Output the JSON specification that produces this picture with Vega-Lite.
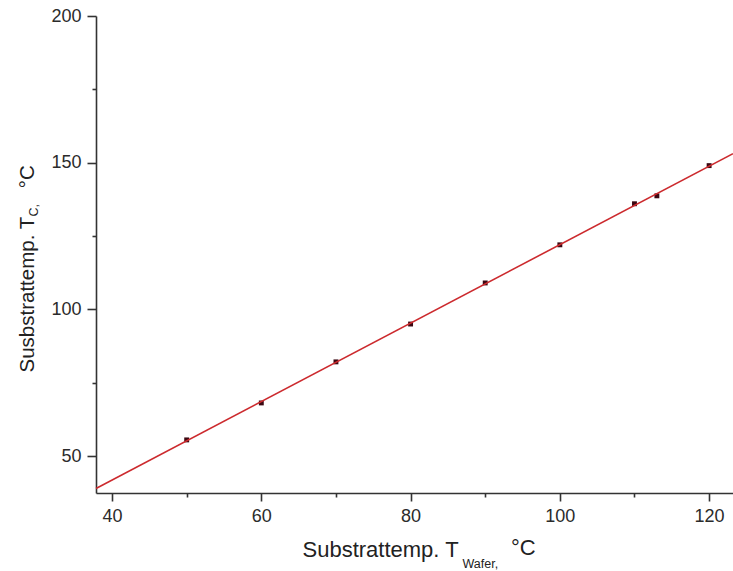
{
  "$schema": "https://vega.github.io/schema/vega-lite/v6.json",
  "autosize": {"type": "none"},
  "width": 637,
  "height": 477,
  "padding": {"left": 96, "top": 16, "right": 0, "bottom": 78},
  "background": "white",
  "title": {
    "text": "°C",
    "orient": "bottom",
    "anchor": "start",
    "frame": "group",
    "font": "Liberation Sans",
    "fontSize": 22,
    "fontWeight": "normal",
    "color": "#222222",
    "baseline": "alphabetic",
    "dx": 415,
    "offset": -15
  },
  "config": {
    "view": {"stroke": null},
    "font": "Liberation Sans",
    "axis": {
      "grid": false,
      "domainColor": "#333333",
      "domainWidth": 1.6,
      "tickColor": "#333333",
      "tickWidth": 1.6,
      "labelFont": "Liberation Sans",
      "labelFontSize": 18,
      "labelColor": "#2b2b2b",
      "titleFont": "Liberation Sans",
      "titleFontWeight": "normal",
      "titleColor": "#222222"
    }
  },
  "data": {
    "values": [
      {"Twafer": 50, "Tc": 55.5},
      {"Twafer": 60, "Tc": 68.1},
      {"Twafer": 70, "Tc": 82.1},
      {"Twafer": 80, "Tc": 95.0},
      {"Twafer": 90, "Tc": 109.0},
      {"Twafer": 100, "Tc": 122.0},
      {"Twafer": 110, "Tc": 136.0},
      {"Twafer": 113, "Tc": 138.7},
      {"Twafer": 120, "Tc": 149.0}
    ]
  },
  "layer": [
    {
      "mark": {"type": "point", "shape": "square", "filled": true, "size": 24, "opacity": 1, "color": "#3a0812"},
      "encoding": {
        "x": {
          "field": "Twafer", "type": "quantitative",
          "scale": {"domain": [37.85, 123.2], "nice": false, "zero": false},
          "axis": {
            "orient": "bottom",
            "values": [40, 60, 80, 100, 120],
            "tickSize": 8,
            "labelPadding": 6,
            "title": "Substrattemp. T",
            "titleFontSize": 22,
            "titleAlign": "left",
            "titleAnchor": null,
            "titleBaseline": "alphabetic",
            "titleX": 206,
            "titleY": 63
          }
        },
        "y": {
          "field": "Tc", "type": "quantitative",
          "scale": {"domain": [37.4, 200], "nice": false, "zero": false},
          "axis": {
            "orient": "left",
            "values": [50, 100, 150, 200],
            "tickSize": 9,
            "labelPadding": 6,
            "title": "Susbstrattemp. T\u00a0\u00a0\u00a0\u00a0\u00a0°C",
            "titleFontSize": 20.5,
            "titleAngle": 270,
            "titleAlign": "left",
            "titleAnchor": null,
            "titleBaseline": "alphabetic",
            "titleX": -63,
            "titleY": 356
          }
        }
      }
    },
    {
      "transform": [
        {"regression": "Tc", "on": "Twafer", "extent": [37.85, 123.2]}
      ],
      "mark": {"type": "line", "color": "#cc2a2e", "strokeWidth": 1.6},
      "encoding": {
        "x": {
          "field": "Twafer", "type": "quantitative",
          "axis": {
            "orient": "bottom",
            "values": [50, 70, 90, 110],
            "tickSize": 4,
            "labels": false,
            "domain": false,
            "title": "Wafer,",
            "titleFontSize": 12.5,
            "titleAlign": "left",
            "titleAnchor": null,
            "titleBaseline": "alphabetic",
            "titleX": 366,
            "titleY": 74
          }
        },
        "y": {
          "field": "Tc", "type": "quantitative",
          "axis": {
            "orient": "left",
            "values": [75, 125, 175],
            "tickSize": 4,
            "labels": false,
            "domain": false,
            "title": "C,",
            "titleFontSize": 12.5,
            "titleAngle": 270,
            "titleAlign": "left",
            "titleAnchor": null,
            "titleBaseline": "alphabetic",
            "titleX": -59,
            "titleY": 200
          }
        }
      }
    }
  ],
  "resolve": {"axis": {"x": "independent", "y": "independent"}}
}
